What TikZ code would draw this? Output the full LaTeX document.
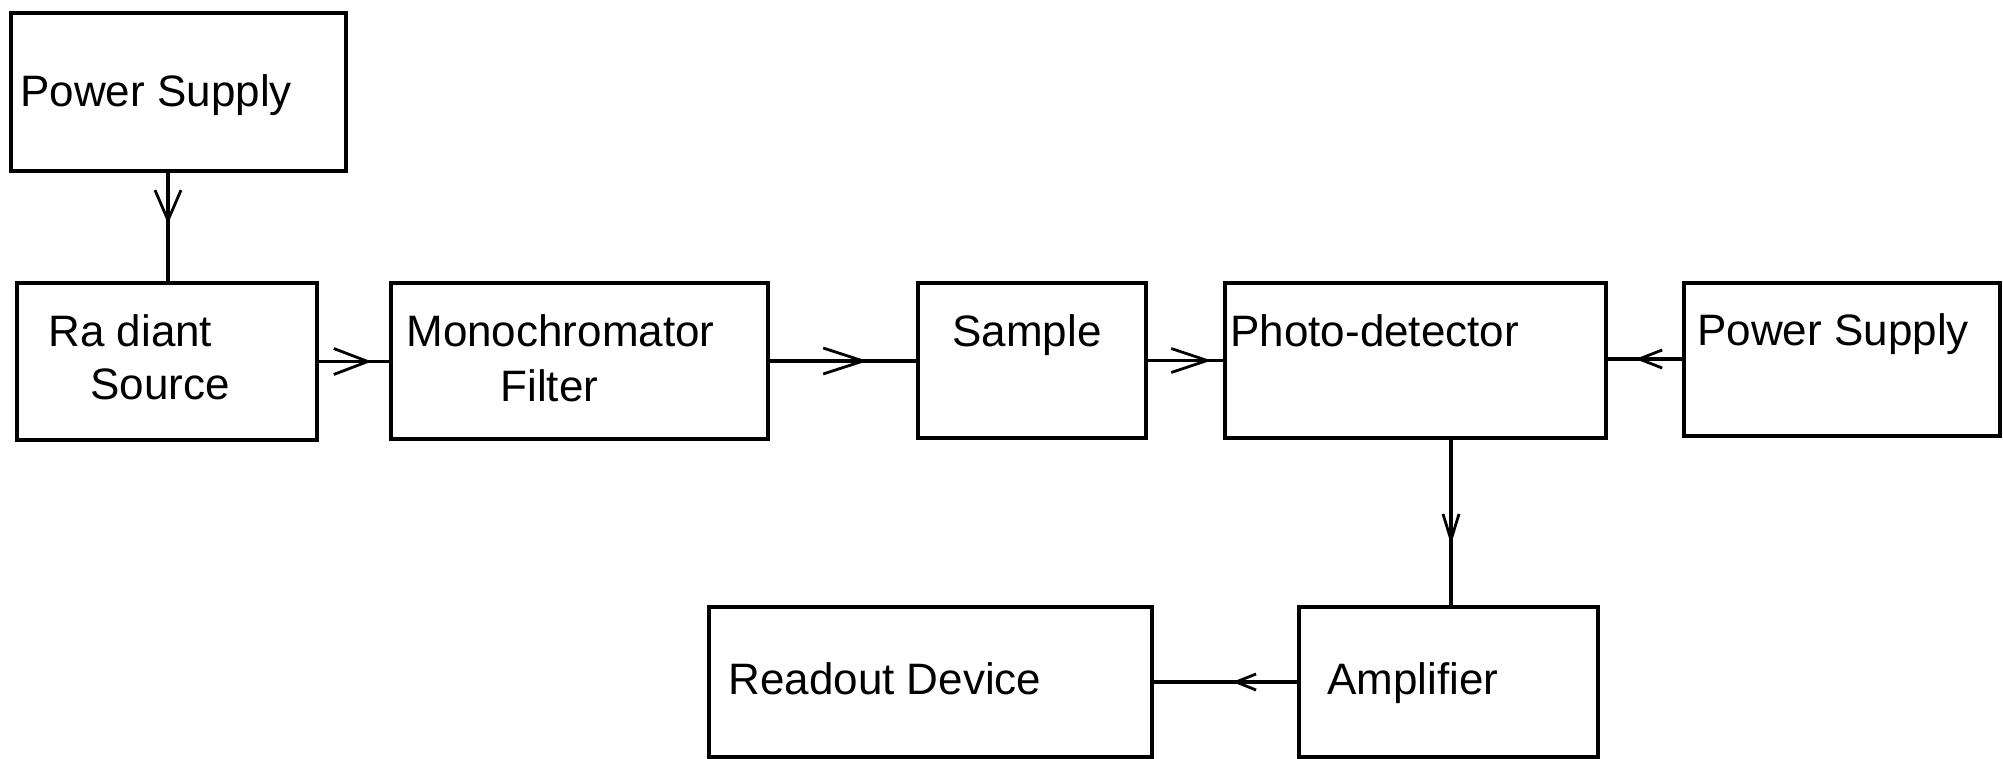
\documentclass[tikz,border=0pt]{standalone}
\usepackage{fontspec}
\setmainfont{Liberation Sans}
\usetikzlibrary{arrows.meta,decorations.markings,fit}
\tikzset{
  box/.style={draw, line width=1.7pt, inner sep=0pt, rectangle},
  lbl/.style={anchor=base west, inner sep=0pt, font=\fontsize{22pt}{26pt}\selectfont},
  conn/.style={line width=1.6pt},
  varr/.style n args={3}{postaction={decorate,decoration={markings,
      mark=at position #1 with {\arrow[line width=1.4pt]{Straight Barb[length=#2,width=#3]}}}}}
}
\begin{document}
\begin{tikzpicture}[x=0.5pt,y=-0.5pt]
\useasboundingbox (0,0) rectangle (2003,759);
% boxes
\coordinate (p1a) at (11,13);   \coordinate (p1b) at (346,171);
\coordinate (ra) at (17,283);   \coordinate (rb) at (317,440);
\coordinate (ma) at (391,283);  \coordinate (mb) at (768,439);
\coordinate (sa) at (918,283);  \coordinate (sb) at (1146,438);
\coordinate (da) at (1225,283); \coordinate (db) at (1606,438);
\coordinate (p2a) at (1684,283);\coordinate (p2b) at (2000,436);
\coordinate (aa) at (1299,607); \coordinate (ab) at (1598,757);
\coordinate (oa) at (709,607);  \coordinate (ob) at (1152,757);
\node[box, fit=(p1a)(p1b)] (ps1) {};
\node[box, fit=(ra)(rb)] (rad) {};
\node[box, fit=(ma)(mb)] (mono) {};
\node[box, fit=(sa)(sb)] (samp) {};
\node[box, fit=(da)(db)] (photo) {};
\node[box, fit=(p2a)(p2b)] (ps2) {};
\node[box, fit=(aa)(ab)] (amp) {};
\node[box, fit=(oa)(ob)] (read) {};
% labels
\node[lbl] (tps1) at (20,107) {Power Supply};
\node[lbl] (trad1) at (48,347) {Ra diant};
\node[lbl] (trad2) at (90,400) {Source};
\node[lbl] (tmono1) at (406,347) {Monochromator};
\node[lbl] (tmono2) at (500,401) {Filter};
\node[lbl] (tsamp) at (952,346) {Sample};
\node[lbl] (tphoto) at (1230,346) {Photo-detector};
\node[lbl] (tps2) at (1697,345) {Power Supply};
\node[lbl] (tread) at (728,694) {Readout Device};
\node[lbl] (tamp) at (1327,694) {Amplifier};
% connectors
\coordinate (c1) at (168,0);
\draw[conn, varr={25.5pt}{15pt}{13pt}] (ps1.south -| c1) -- (rad.north -| c1);
\draw[conn, varr={26.5pt}{17pt}{13pt}] (rad.east) -- (rad.east -| mono.west);
\draw[conn, varr={49pt}{20pt}{13pt}] (mono.east) -- (mono.east -| samp.west);
\draw[conn, varr={32pt}{18pt}{12pt}] (samp.east) -- (samp.east -| photo.west);
\coordinate (c2) at (0,359);
\draw[conn, varr={23.5pt}{11.5pt}{9pt}] (ps2.west |- c2) -- (photo.east |- c2);
\coordinate (c3) at (1451,0);
\draw[conn, varr={52.5pt}{13pt}{8pt}] (photo.south -| c3) -- (amp.north -| c3);
\draw[conn, varr={32.5pt}{10pt}{8pt}] (amp.west) -- (amp.west -| read.east);
\end{tikzpicture}
\end{document}
